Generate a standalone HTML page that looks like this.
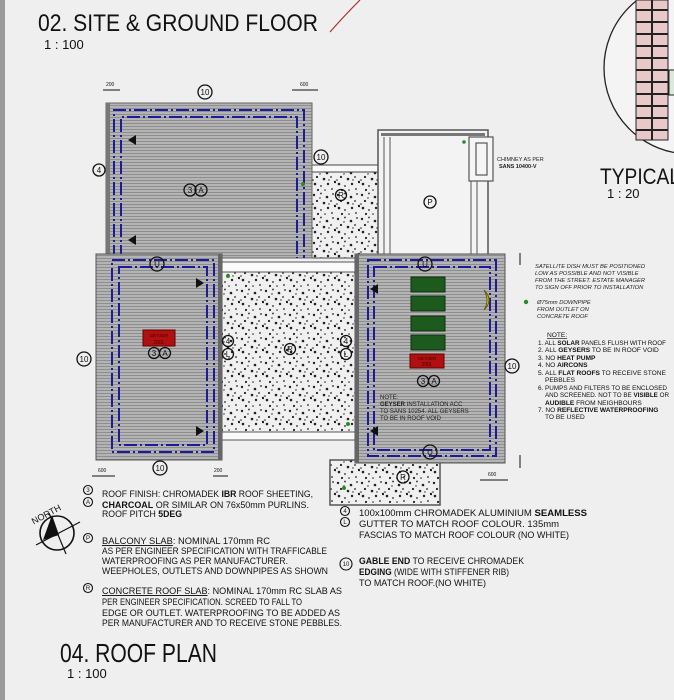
<!DOCTYPE html>
<html><head><meta charset="utf-8"><style>
html,body{margin:0;padding:0;background:#efefef;}
svg{display:block;font-family:"Liberation Sans",sans-serif;}
</style></head><body>
<svg width="674" height="700" viewBox="0 0 674 700" xmlns="http://www.w3.org/2000/svg">
<defs>
<pattern id="roof" width="4" height="3" patternUnits="userSpaceOnUse">
<rect width="4" height="3" fill="#b4b4b4"/><rect width="4" height="1" fill="#8e8e8e"/>
</pattern>
<pattern id="conc" width="24" height="24" patternUnits="userSpaceOnUse">
<rect width="24" height="24" fill="#f0f0f0"/>
<g fill="#222">
<circle cx="2" cy="3" r="1.2"/><circle cx="9" cy="1.5" r="0.9"/><circle cx="15" cy="5" r="1.3"/><circle cx="21" cy="2" r="0.9"/>
<circle cx="5" cy="9" r="1.1"/><circle cx="12" cy="11" r="1.3"/><circle cx="19" cy="9" r="0.9"/><circle cx="23" cy="14" r="1.2"/>
<circle cx="3" cy="16" r="1.3"/><circle cx="9" cy="18" r="0.9"/><circle cx="16" cy="16" r="1.2"/><circle cx="20" cy="21" r="0.9"/>
<circle cx="6" cy="22" r="1.1"/><circle cx="13" cy="22" r="0.8"/><circle cx="1" cy="12" r="0.8"/><circle cx="17" cy="12" r="0.7"/><circle cx="8" cy="6" r="0.7"/>
</g></pattern>
</defs>
<rect x="0" y="0" width="5" height="700" fill="#9a9a9a"/>
<!-- titles -->
<text x="38" y="31" font-size="24" textLength="280" lengthAdjust="spacingAndGlyphs" fill="#111">02. SITE &amp; GROUND FLOOR</text>
<text x="44" y="49" font-size="13" fill="#111">1 : 100</text>
<path d="M330 32 Q345 15 360 0" stroke="#b03030" stroke-width="1.2" fill="none"/>
<!-- detail circle -->
<circle cx="690" cy="68" r="86" fill="#f4f4f4" stroke="#222" stroke-width="1.3"/>
<g>
<rect x="636" y="0" width="32" height="140" fill="#e8c8c8" stroke="#222"/>
<g stroke="#222" stroke-width="2">
<line x1="636" y1="10" x2="668" y2="10"/><line x1="636" y1="22" x2="668" y2="22"/><line x1="636" y1="34" x2="668" y2="34"/>
<line x1="636" y1="46" x2="668" y2="46"/><line x1="636" y1="58" x2="668" y2="58"/><line x1="636" y1="70" x2="668" y2="70"/>
<line x1="636" y1="82" x2="668" y2="82"/><line x1="636" y1="94" x2="668" y2="94"/><line x1="636" y1="106" x2="668" y2="106"/>
<line x1="636" y1="118" x2="668" y2="118"/><line x1="636" y1="130" x2="668" y2="130"/>
<line x1="652" y1="0" x2="652" y2="140"/></g>
<rect x="669" y="70" width="6" height="25" fill="#dde8dd" stroke="#222"/>
</g>
<text x="600" y="184" font-size="22" textLength="80" lengthAdjust="spacingAndGlyphs" fill="#111">TYPICAL</text>
<text x="607" y="198" font-size="13" fill="#111">1 : 20</text>

<!-- top concrete strip -->
<rect x="312" y="165" width="66" height="7" fill="#fafafa" stroke="#444"/>
<rect x="312" y="172" width="66" height="86" fill="url(#conc)" stroke="#444"/>
<!-- balcony P -->
<rect x="378" y="130" width="110" height="135" fill="#f3f3f3" stroke="#555" stroke-width="1.5"/>
<rect x="381" y="133" width="104" height="3" fill="#777"/>
<line x1="384" y1="137" x2="384" y2="265" stroke="#555"/><line x1="390" y1="137" x2="390" y2="265" stroke="#555"/>
<line x1="471" y1="180" x2="471" y2="265" stroke="#555"/><line x1="477" y1="180" x2="477" y2="265" stroke="#555"/>
<rect x="469" y="137" width="24" height="44" fill="#f5f5f5" stroke="#555" stroke-width="1.2"/>
<rect x="476" y="143" width="11" height="32" fill="none" stroke="#555" stroke-width="1.2"/>
<circle cx="464" cy="142" r="1.8" fill="#2a8a2a"/>
<text x="497" y="161" font-size="5.5" fill="#222">CHIMNEY AS PER</text>
<text x="499" y="168" font-size="5.5" font-weight="bold" fill="#222">SANS 10400-V</text>

<!-- roof A -->
<rect x="106" y="103" width="206" height="155" fill="url(#roof)" stroke="#666"/>
<rect x="106" y="103" width="4" height="155" fill="#777"/>
<path d="M114 258 V110 H304 V258" fill="none" stroke="#1c1c9a" stroke-width="2" stroke-dasharray="13,3,2,3"/>
<path d="M121 258 V117 H297 V258" fill="none" stroke="#1c1c9a" stroke-width="2" stroke-dasharray="13,3,2,3"/>
<!-- center concrete -->
<rect x="222" y="262" width="133" height="10" fill="#fafafa" stroke="#555"/>
<rect x="222" y="272" width="133" height="160" fill="url(#conc)" stroke="#555"/>
<rect x="222" y="432" width="133" height="8" fill="#fafafa" stroke="#555"/>
<!-- bottom concrete under C -->
<rect x="330" y="460" width="110" height="45" fill="url(#conc)" stroke="#555" stroke-width="1.5"/>
<!-- roof B -->
<rect x="96" y="254" width="126" height="206" fill="url(#roof)" stroke="#555"/>
<rect x="218" y="254" width="4" height="206" fill="#666"/>
<rect x="112" y="260" width="102" height="192" fill="none" stroke="#1c1c9a" stroke-width="2" stroke-dasharray="13,3,2,3"/>
<rect x="119" y="267" width="88" height="178" fill="none" stroke="#1c1c9a" stroke-width="2" stroke-dasharray="13,3,2,3"/>
<rect x="143" y="330" width="32" height="16" fill="#b01010" stroke="#600"/>
<text x="159" y="337" font-size="4.5" fill="#400" text-anchor="middle">GEYSER</text>
<text x="159" y="344" font-size="5" fill="#400" text-anchor="middle">200L</text>
<!-- roof C -->
<rect x="355" y="254" width="150" height="209" fill="url(#roof)" stroke="#555"/>
<rect x="355" y="254" width="4" height="209" fill="#666"/>
<rect x="368" y="260" width="128" height="196" fill="none" stroke="#1c1c9a" stroke-width="2" stroke-dasharray="13,3,2,3"/>
<rect x="374" y="267" width="116" height="183" fill="none" stroke="#1c1c9a" stroke-width="2" stroke-dasharray="13,3,2,3"/>
<g fill="#1d5a1d" stroke="#0d2d0d">
<rect x="411" y="277" width="34" height="15"/><rect x="411" y="296" width="34" height="15"/>
<rect x="411" y="316" width="34" height="15"/><rect x="411" y="335" width="34" height="15"/></g>
<rect x="410" y="354" width="34" height="14" fill="#b01010" stroke="#600"/>
<text x="427" y="360" font-size="4.5" fill="#400" text-anchor="middle">GEYSER</text>
<text x="427" y="366" font-size="5" fill="#400" text-anchor="middle">200L</text>
<path d="M484 290 Q494 300 484 310 Q490 300 484 290Z" fill="#e8d020" stroke="#6a5a00"/>
<text x="380" y="399" font-size="6" fill="#222">NOTE:</text>
<text x="380" y="406" font-size="6" fill="#222"><tspan font-weight="bold">GEYSER</tspan> INSTALLATION ACC</text>
<text x="380" y="413" font-size="6" fill="#222">TO SANS 10254. ALL GEYSERS</text>
<text x="380" y="420" font-size="6" fill="#222">TO BE IN ROOF VOID</text>

<!-- arrows -->
<g fill="#111">
<path d="M128 140 l8 -5 v10z"/><path d="M128 240 l8 -5 v10z"/>
<path d="M204 283 l-8 -5 v10z"/><path d="M204 431 l-8 -5 v10z"/>
<path d="M370 289 l8 -5 v10z"/><path d="M370 431 l8 -5 v10z"/>
</g>
<g fill="#2a8a2a"><circle cx="303" cy="184" r="2"/><circle cx="228" cy="276" r="2"/><circle cx="348" cy="424" r="2"/><circle cx="526" cy="302" r="2.2"/><circle cx="344" cy="488" r="2"/></g>

<!-- circle tags -->
<g fill="none" stroke="#111" stroke-width="1.3">
<circle cx="205" cy="92" r="7"/><circle cx="99" cy="170" r="6"/><circle cx="321" cy="157" r="7"/>
<circle cx="190" cy="190" r="6"/><circle cx="201" cy="190" r="6"/>
<circle cx="157" cy="264" r="7"/><circle cx="84" cy="359" r="7"/><circle cx="160" cy="468" r="7"/>
<circle cx="154" cy="353" r="5.5"/><circle cx="165" cy="353" r="5.5"/>
<circle cx="228" cy="341" r="5.5"/><circle cx="228" cy="354" r="5.5"/><circle cx="346" cy="341" r="5.5"/><circle cx="346" cy="354" r="5.5"/>
<circle cx="290" cy="349" r="5.5"/><circle cx="341" cy="195" r="5.5"/><circle cx="430" cy="202" r="6"/>
<circle cx="425" cy="264" r="7"/><circle cx="430" cy="452" r="7"/><circle cx="512" cy="366" r="7"/>
<circle cx="423" cy="381" r="5.5"/><circle cx="434" cy="381" r="5.5"/><circle cx="403" cy="477" r="6"/>
</g>
<g font-size="8" fill="#111" text-anchor="middle">
<text x="205" y="95">10</text><text x="99" y="173">4</text><text x="321" y="160">10</text>
<text x="190" y="193">3</text><text x="201" y="193">A</text><text x="157" y="267">U</text><text x="84" y="362">10</text><text x="160" y="471">10</text>
<text x="154" y="356">3</text><text x="165" y="356">A</text><text x="228" y="344">4</text><text x="228" y="357">L</text><text x="346" y="344">4</text><text x="346" y="357">L</text>
<text x="290" y="352">R</text><text x="341" y="198">R</text><text x="430" y="205">P</text><text x="425" y="267">U</text><text x="430" y="455">U</text><text x="512" y="369">10</text>
<text x="423" y="384">3</text><text x="434" y="384">A</text><text x="403" y="480">R</text>
</g>
<!-- dims -->
<g stroke="#111" stroke-width="1" font-size="5" fill="#111">
<line x1="103" y1="90" x2="120" y2="90"/><text x="106" y="86" stroke="none">200</text>
<line x1="292" y1="90" x2="318" y2="90"/><text x="300" y="86" stroke="none">600</text>
<line x1="92" y1="476" x2="115" y2="476"/><text x="98" y="472" stroke="none">600</text>
<line x1="213" y1="476" x2="228" y2="476"/><text x="214" y="472" stroke="none">200</text>
<line x1="520" y1="253" x2="520" y2="265"/><line x1="520" y1="455" x2="520" y2="468"/>
<line x1="480" y1="480" x2="508" y2="480"/><text x="488" y="476" stroke="none">600</text>
</g>

<!-- right notes -->
<g font-size="5.8" font-style="italic" fill="#222">
<text x="535" y="268" textLength="110" lengthAdjust="spacingAndGlyphs">SATELLITE DISH MUST BE POSITIONED</text>
<text x="535" y="275">LOW AS POSSIBLE AND NOT VISIBLE</text>
<text x="535" y="282">FROM THE STREET. ESTATE MANAGER</text>
<text x="535" y="289">TO SIGN OFF PRIOR TO INSTALLATION</text>
<text x="537" y="304">Ø75mm DOWNPIPE</text>
<text x="537" y="311">FROM OUTLET ON</text>
<text x="537" y="318">CONCRETE ROOF</text>
</g>
<g font-size="6.6" fill="#111">
<text x="547" y="337" text-decoration="underline">NOTE:</text>
<text x="538" y="345" textLength="128" lengthAdjust="spacingAndGlyphs">1. ALL <tspan font-weight="bold">SOLAR</tspan> PANELS FLUSH WITH ROOF</text>
<text x="538" y="352">2. ALL <tspan font-weight="bold">GEYSERS</tspan> TO BE IN ROOF VOID</text>
<text x="538" y="360">3. NO <tspan font-weight="bold">HEAT PUMP</tspan></text>
<text x="538" y="367">4. NO <tspan font-weight="bold">AIRCONS</tspan></text>
<text x="538" y="375">5. ALL <tspan font-weight="bold">FLAT ROOFS</tspan> TO RECEIVE STONE</text>
<text x="545" y="382">PEBBLES</text>
<text x="538" y="390" textLength="129" lengthAdjust="spacingAndGlyphs">6. PUMPS AND FILTERS TO BE ENCLOSED</text>
<text x="545" y="397" textLength="124" lengthAdjust="spacingAndGlyphs">AND SCREENED. NOT TO BE <tspan font-weight="bold">VISIBLE</tspan> OR</text>
<text x="545" y="405"><tspan font-weight="bold">AUDIBLE</tspan> FROM NEIGHBOURS</text>
<text x="538" y="412">7. NO <tspan font-weight="bold">REFLECTIVE WATERPROOFING</tspan></text>
<text x="545" y="419">TO BE USED</text>
</g>

<!-- north -->
<text x="28" y="518" font-size="9" fill="#111" transform="rotate(-28 44 510)">NORTH</text>
<circle cx="57" cy="533" r="17" fill="none" stroke="#111" stroke-width="1.6"/>
<line x1="36" y1="545" x2="80" y2="522" stroke="#111" stroke-width="1.2"/>
<line x1="49" y1="513" x2="66" y2="554" stroke="#111" stroke-width="1.2"/>
<path d="M52 515 L43 540 L59 535Z" fill="#111"/>

<!-- legends -->
<g fill="none" stroke="#111" stroke-width="1.1">
<circle cx="88" cy="490" r="4.5"/><circle cx="88" cy="502" r="4.5"/><circle cx="88" cy="538" r="4.5"/><circle cx="88" cy="588" r="4.5"/>
<circle cx="345" cy="511" r="4.5"/><circle cx="345" cy="522" r="4.5"/><circle cx="346" cy="564" r="6"/>
</g>
<g font-size="6" fill="#111" text-anchor="middle">
<text x="88" y="492">3</text><text x="88" y="504">A</text><text x="88" y="540">P</text><text x="88" y="590">R</text>
<text x="345" y="513">4</text><text x="345" y="524">L</text><text x="346" y="566">10</text></g>
<g font-size="9.5" fill="#111">
<text x="102" y="497" textLength="211" lengthAdjust="spacingAndGlyphs">ROOF FINISH: CHROMADEK <tspan font-weight="bold">IBR</tspan> ROOF SHEETING,</text>
<text x="102" y="508" textLength="207" lengthAdjust="spacingAndGlyphs"><tspan font-weight="bold">CHARCOAL</tspan> OR SIMILAR ON 76x50mm PURLINS.</text>
<text x="102" y="517" textLength="80" lengthAdjust="spacingAndGlyphs">ROOF PITCH <tspan font-weight="bold">5DEG</tspan></text>
<text x="102" y="544" textLength="168" lengthAdjust="spacingAndGlyphs"><tspan text-decoration="underline">BALCONY SLAB</tspan>: NOMINAL 170mm RC</text>
<text x="102" y="554" textLength="225" lengthAdjust="spacingAndGlyphs">AS PER ENGINEER SPECIFICATION WITH TRAFFICABLE</text>
<text x="102" y="564" textLength="186" lengthAdjust="spacingAndGlyphs">WATERPROOFING AS PER MANUFACTURER.</text>
<text x="102" y="574" textLength="226" lengthAdjust="spacingAndGlyphs">WEEPHOLES, OUTLETS AND DOWNPIPES AS SHOWN</text>
<text x="102" y="594" textLength="240" lengthAdjust="spacingAndGlyphs"><tspan text-decoration="underline">CONCRETE ROOF SLAB</tspan>: NOMINAL 170mm RC SLAB AS</text>
<text x="102" y="605" textLength="200" lengthAdjust="spacingAndGlyphs">PER ENGINEER SPECIFICATION. SCREED TO FALL TO</text>
<text x="102" y="616" textLength="238" lengthAdjust="spacingAndGlyphs">EDGE OR  OUTLET. WATERPROOFING TO BE ADDED AS</text>
<text x="102" y="626" textLength="240" lengthAdjust="spacingAndGlyphs">PER MANUFACTURER AND TO RECEIVE STONE PEBBLES.</text>
<text x="359" y="516" textLength="228" lengthAdjust="spacingAndGlyphs">100x100mm CHROMADEK ALUMINIUM <tspan font-weight="bold">SEAMLESS</tspan></text>
<text x="359" y="527" textLength="200" lengthAdjust="spacingAndGlyphs">GUTTER TO MATCH ROOF COLOUR. 135mm</text>
<text x="359" y="538" textLength="210" lengthAdjust="spacingAndGlyphs">FASCIAS TO MATCH ROOF COLOUR (NO WHITE)</text>
<text x="359" y="564" textLength="165" lengthAdjust="spacingAndGlyphs"><tspan font-weight="bold">GABLE END</tspan> TO RECEIVE CHROMADEK</text>
<text x="359" y="575" textLength="150" lengthAdjust="spacingAndGlyphs"><tspan font-weight="bold">EDGING</tspan> (WIDE WITH STIFFENER RIB)</text>
<text x="359" y="586" textLength="127" lengthAdjust="spacingAndGlyphs">TO MATCH ROOF.(NO WHITE)</text>
</g>
<text x="60" y="662" font-size="26" textLength="157" lengthAdjust="spacingAndGlyphs" fill="#111">04. ROOF PLAN</text>
<text x="67" y="678" font-size="13" fill="#111">1 : 100</text>
</svg>
</body></html>
